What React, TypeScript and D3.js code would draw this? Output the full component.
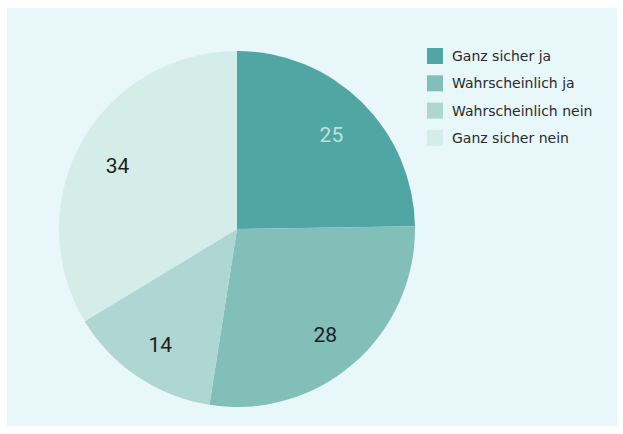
import React from "react";
import * as d3 from "d3";

const categories = ["Ganz sicher ja", "Wahrscheinlich ja", "Wahrscheinlich nein", "Ganz sicher nein"];
const values = [25, 28, 14, 34];
const colors = ["#50a6a2", "#83bfb9", "#aed6d3", "#d5ede9"];
const labelColors = ["#b9e2de", "#1e1e1e", "#1e1e1e", "#1e1e1e"];

const W = 623;
const H = 434;

const App = () => {
  const cx = 237;
  const cy = 229;
  const r = 178;

  const pie = d3.pie<number>().sort(null).value((d) => d);
  const arcs = pie(values);
  const arc = d3.arc<d3.PieArcDatum<number>>().innerRadius(0).outerRadius(r);
  const labelArc = d3.arc<d3.PieArcDatum<number>>().innerRadius(136).outerRadius(136);

  return (
    <svg width={W} height={H} style={{ position: "absolute", left: 0, top: 0, fontFamily: "Roboto, 'Noto Sans', sans-serif" }}>
      <rect x={0} y={0} width={W} height={H} fill="#ffffff" />
      <rect x={7} y={8} width={610} height={418} fill="#e8f7fa" />
      <g transform={`translate(${cx},${cy})`}>
        {arcs.map((a, i) => (
          <path key={i} d={arc(a) || ""} fill={colors[i]} />
        ))}
        {arcs.map((a, i) => {
          const [x, y] = labelArc.centroid(a);
          return (
            <text key={i} x={x - 1} y={y + 3} dy="0.35em" textAnchor="middle" fontSize={21} fill={labelColors[i]}>
              {values[i]}
            </text>
          );
        })}
      </g>
      <g transform="translate(427,48)">
        {categories.map((c, i) => (
          <g key={c} transform={`translate(0,${i * 27.3})`}>
            <rect width={16} height={16} fill={colors[i]} />
            <text x={25} y={8} dy="0.35em" fontSize={14} fontFamily="'DejaVu Sans', sans-serif" fill="#2a2a2a">
              {c}
            </text>
          </g>
        ))}
      </g>
    </svg>
  );
};

export default App;
